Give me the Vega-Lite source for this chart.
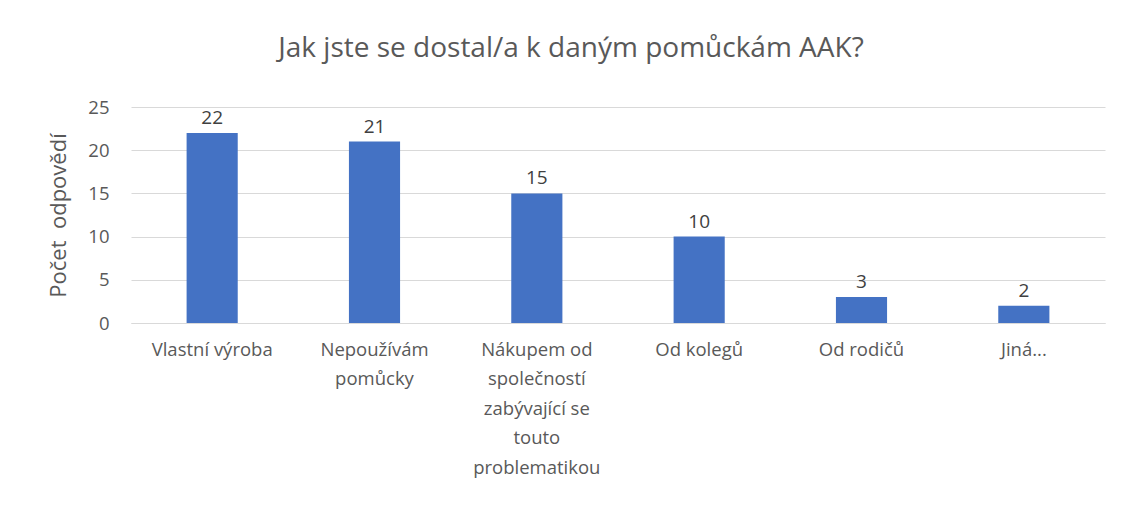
{
  "$schema": "https://vega.github.io/schema/vega-lite/v6.json",
  "autosize": {"type": "none"},
  "width": 974,
  "height": 216,
  "padding": {"left": 131, "top": 107, "right": 18, "bottom": 186},
  "background": "white",
  "title": {
    "text": "Jak jste se dostal/a k daným pomůckám AAK?",
    "font": "Open Sans",
    "fontSize": 28,
    "fontWeight": "normal",
    "color": "#595959",
    "anchor": "middle",
    "dx": -47,
    "offset": 35
  },
  "data": {
    "values": [
      {"kategorie": "Vlastní výroba", "pocet": 22},
      {"kategorie": "Nepoužívám pomůcky", "pocet": 21},
      {"kategorie": "Nákupem od společností zabývající se touto problematikou", "pocet": 15},
      {"kategorie": "Od kolegů", "pocet": 10},
      {"kategorie": "Od rodičů", "pocet": 3},
      {"kategorie": "Jiná...", "pocet": 2}
    ]
  },
  "encoding": {
    "x": {
      "field": "kategorie",
      "type": "nominal",
      "sort": null,
      "scale": {"paddingInner": 0.685, "paddingOuter": 0.3425},
      "axis": {
        "title": null,
        "labelAngle": 0,
        "labelFont": "Open Sans",
        "labelFontSize": 18.5,
        "labelColor": "#595959",
        "labelPadding": 17,
        "labelLineHeight": 29.5,
        "labelLimit": 300,
        "ticks": false,
        "domainColor": "#d9d9d9",
        "labelExpr": "datum.label == 'Nepoužívám pomůcky' ? ['Nepoužívám', 'pomůcky'] : datum.label == 'Nákupem od společností zabývající se touto problematikou' ? ['Nákupem od', 'společností', 'zabývající se', 'touto', 'problematikou'] : datum.label"
      }
    },
    "y": {
      "field": "pocet",
      "type": "quantitative",
      "scale": {"domain": [0, 25]},
      "axis": {
        "title": "Počet\u00a0\u00a0odpovědí",
        "titleFont": "Open Sans",
        "titleFontSize": 22,
        "titleFontWeight": "normal",
        "titleColor": "#595959",
        "titlePadding": 17,
        "values": [0, 5, 10, 15, 20, 25],
        "labelFont": "Open Sans",
        "labelFontSize": 18.5,
        "labelColor": "#595959",
        "labelPadding": 22,
        "ticks": false,
        "domain": false,
        "gridColor": "#d9d9d9"
      }
    }
  },
  "layer": [
    {"mark": {"type": "bar", "color": "#4472C4"}},
    {
      "mark": {"type": "text", "baseline": "bottom", "dy": -5, "font": "Open Sans", "fontSize": 19, "color": "#404040"},
      "encoding": {"text": {"field": "pocet", "type": "quantitative"}}
    }
  ],
  "config": {"view": {"stroke": null}}
}
